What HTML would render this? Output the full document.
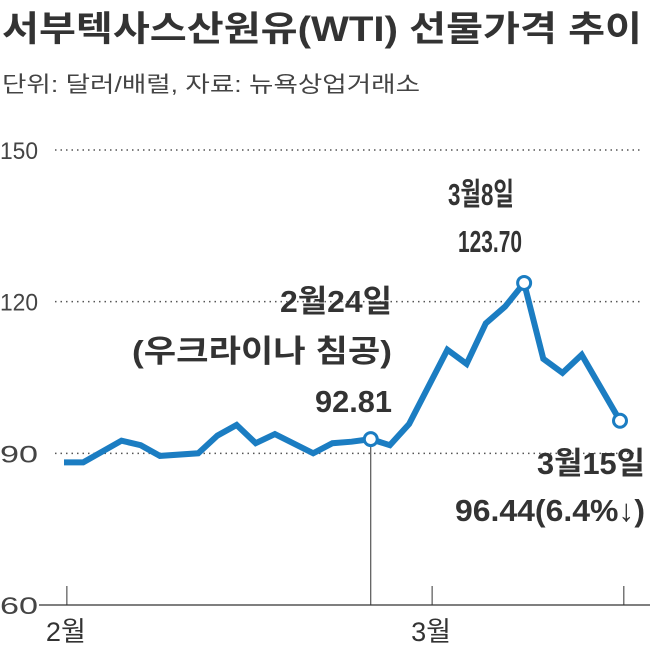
<!DOCTYPE html>
<html><head><meta charset="utf-8"><style>
html,body{margin:0;padding:0;background:#fff;}
svg{display:block;font-family:"Liberation Sans","Noto Sans CJK KR",sans-serif;}
</style></head><body>
<svg id="chart" width="650" height="647" viewBox="0 0 650 647">
<text x="2" y="41" font-size="35" font-weight="bold" fill="#333" textLength="640" lengthAdjust="spacingAndGlyphs">서부텍사스산원유(WTI) 선물가격 추이</text>
<text x="2" y="92" font-size="22" fill="#444" textLength="418" lengthAdjust="spacingAndGlyphs">단위: 달러/배럴, 자료: 뉴욕상업거래소</text>
<g id="grid"></g>
<g id="axes"></g>
<g id="series"></g>
<g font-size="31" fill="#333" font-weight="bold">
<text x="448" y="205" textLength="66" lengthAdjust="spacingAndGlyphs">3월8일</text>
<text x="458" y="252" textLength="64" lengthAdjust="spacingAndGlyphs">123.70</text>
<text x="280" y="312" textLength="112" lengthAdjust="spacingAndGlyphs">2월24일</text>
<text x="132" y="362" textLength="260" lengthAdjust="spacingAndGlyphs">(우크라이나 침공)</text>
<text x="315" y="412" textLength="77" lengthAdjust="spacingAndGlyphs">92.81</text>
<text x="537" y="474" textLength="108" lengthAdjust="spacingAndGlyphs">3월15일</text>
<text x="455" y="521" textLength="190" lengthAdjust="spacingAndGlyphs">96.44(6.4%↓)</text>
</g>
</svg>
<script>
const dayIndex = [0,1,3,4,5,7,8,9,10,11,13,14,15,16,17,18,20,21,22,23,24,25,26,27,29];
const prices = [88.2,88.2,92.5,91.6,89.5,90.0,93.5,95.6,92.0,93.8,90.0,92.0,92.3,92.81,91.6,95.8,110.5,107.7,115.7,119.0,123.7,108.7,105.9,109.5,96.44];
const highlightIdx = [16,24,29];
const yTicks = [60,90,120,150];
const xTickIdx = [0.15,19.2,29.2];
const xTickLabels = ['2월','3월',''];
const x0=64, x1=620, iMax=29, yb=605, yt=150, vMin=60, vMax=150;
const X = i => x0 + (x1-x0)*i/iMax;
const Y = v => yb - (v-vMin)*(yb-yt)/(vMax-vMin);
const NS='http://www.w3.org/2000/svg';
function mk(tag, attrs, parent){const e=document.createElementNS(NS,tag);for(const k in attrs)e.setAttribute(k,attrs[k]);parent.appendChild(e);return e;}
const grid=document.getElementById('grid'), axes=document.getElementById('axes'), series=document.getElementById('series');
yTicks.forEach(v=>{
  const t=mk('text',{x:0,y:Y(v)+9,'font-size':24,fill:'#444',textLength:38,lengthAdjust:'spacingAndGlyphs'},axes);
  t.textContent=v;
  
  
  if(v>vMin){
    const l=mk('line',{x1:55,x2:640,y1:Y(v),y2:Y(v),stroke:'#555','stroke-width':1.5,'stroke-dasharray':'1.5 4'},grid);
    
    
  }
});
const ax=mk('line',{x1:39,x2:650,y1:yb,y2:yb,stroke:'#333','stroke-width':1.3},axes);


xTickIdx.forEach((i,k)=>{
  const l=mk('line',{x1:X(i),x2:X(i),y1:yb-19,y2:yb,stroke:'#333','stroke-width':1},axes);
  
  
  if(xTickLabels[k]){
    const t=mk('text',{x:X(i)-21,y:641,'font-size':27,fill:'#333',textLength:40,lengthAdjust:'spacingAndGlyphs'},axes);
    t.textContent=xTickLabels[k];
    
    
  }
});
const hi=dayIndex.indexOf(16);
const vl=mk('line',{x1:X(16),x2:X(16),y1:Y(prices[hi]),y2:yb,stroke:'#333','stroke-width':1},axes);


const pts=dayIndex.map((d,k)=>X(d).toFixed(1)+','+Y(prices[k]).toFixed(1)).join(' ');
const pl=mk('polyline',{points:pts,fill:'none',stroke:'#1b7dc2','stroke-width':6,'stroke-linejoin':'miter','stroke-linecap':'butt'},series);


highlightIdx.forEach(d=>{
  const k=dayIndex.indexOf(d);
  const c=mk('circle',{cx:X(d),cy:Y(prices[k]),r:6.5,fill:'#fff',stroke:'#1b7dc2','stroke-width':3},series);
  
  
});
</script>
</body></html>
